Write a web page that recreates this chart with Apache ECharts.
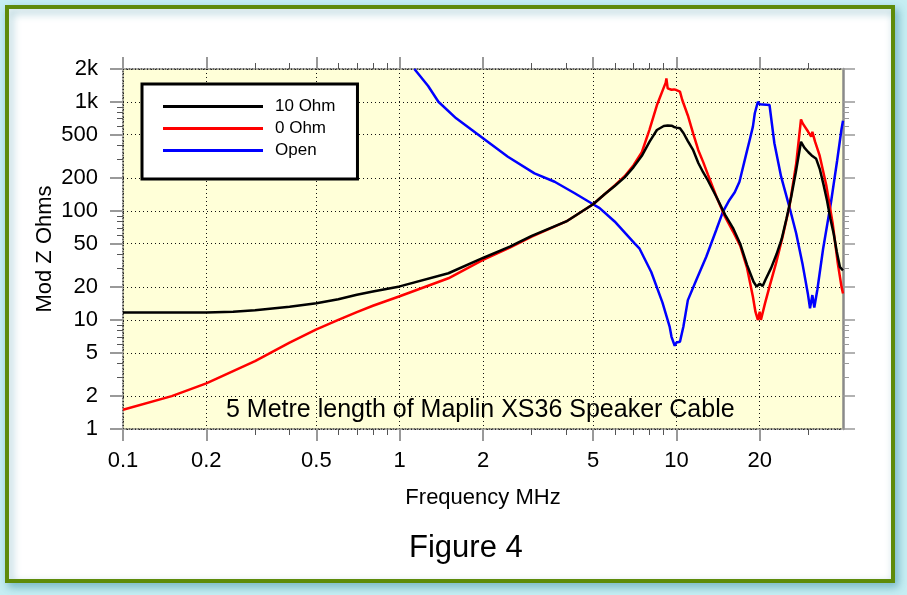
<!DOCTYPE html>
<html><head><meta charset="utf-8">
<script src="https://cdn.jsdelivr.net/npm/echarts@6/dist/echarts.min.js"></script>
<style>html,body{margin:0;padding:0;background:#c6eef3;} #c{width:907px;height:595px;}</style>
</head><body><div id="c"></div>
<script>
// ---- data (frequency in MHz, impedance in ohms) ----
const freq10 = [0.1,0.15,0.2,0.25,0.3,0.4,0.5,0.6,0.7,0.8,1.0,1.5,2.0,2.5,3.0,4.0,5.0,5.5,6.0,6.5,7.0,7.5,8.0,8.5,9.0,9.3,9.6,9.8,10.0,10.3,10.6,11.0,11.5,12.0,12.5,13.0,14.0,15.0,16.0,17.0,18.0,19.0,19.5,20.0,20.5,21.0,22.0,23.0,24.0,25.0,26.0,27.0,28.2,29.0,30.0,31.0,32.0,33.0,34.0,35.0,36.0,37.0,38.0,39.0,40.0];
const z10    = [11.7,11.7,11.7,11.9,12.3,13.2,14.2,15.5,17.0,18.2,20.3,26.8,37,47,59,80,115,142,170,203,252,320,431,552,600,606,604,588,580,572,518,437,360,275,225,190,132,92,70,50,32,22.4,20.2,21.5,20.5,23.5,30,40,55,85,135,225,430,380,345,318,300,240,175,125,85,62,42,30.5,28.5];

const freq0 = [0.1,0.15,0.2,0.25,0.3,0.4,0.5,0.6,0.7,0.8,1.0,1.5,2.0,2.5,3.0,4.0,5.0,5.5,6.0,6.5,7.0,7.5,8.0,8.5,9.0,9.15,9.2,9.3,9.6,9.8,10.0,10.3,10.5,11.0,11.5,12.0,12.5,13.0,14.0,15.0,16.0,17.0,18.0,18.9,19.3,19.7,20.0,20.2,20.9,21.7,22.9,24.2,25.6,27.1,28.2,28.6,29.9,30.7,31.0,31.7,32.9,34.8,36.7,38.3,39.5,40.0];
const z0    = [1.5,2.0,2.62,3.4,4.2,6.2,8.2,10.0,11.8,13.5,16.5,24.1,35.5,46,58,80,115,142,172,208,262,345,560,930,1350,1500,1640,1330,1290,1300,1283,1240,1040,750,510,360,280,215,132,88,65,48,30,16.3,11.9,10.0,11.9,10.0,14.2,20.2,33,58,109,273,690,634,534,479,530,431,325,172,77,33,20.2,17.5];

const freqOpen = [1.13,1.267,1.38,1.6,2.0,2.46,3.07,3.63,4.29,5.0,5.28,5.98,7.06,7.36,8.11,8.9,9.45,9.6,9.86,10.0,10.1,10.3,10.6,11.0,11.8,12.82,13.93,14.72,15.55,16.25,16.9,17.9,18.4,18.9,19.2,19.7,20.0,21.7,21.9,22.6,23.9,25.6,27.1,28.6,29.9,30.4,31.0,31.5,32.3,33.9,36.2,38.1,39.5,40.0];
const zOpen    = [2000,1396,1002,706,463,314,221,185,145,115,106,80,50.4,45,27.5,14.5,8.7,7.0,5.8,6.2,6.0,6.3,8.7,15.2,23.2,38,66.8,98,126,148,185,337,447,592,785,1002,950,935,930,417,206,109,62,32,17,12.8,16.9,13.0,18.8,45,120,290,560,670];

const xMajorTicks = [0.1,0.2,0.5,1,2,5,10,20];
const xTickLabels = ['0.1','0.2','0.5','1','2','5','10','20'];
const xMinorTicks = [0.3,0.4,0.6,0.7,0.8,0.9,3,4,6,7,8,9,30];
const yMajorTicks = [1,2,5,10,20,50,100,200,500,1000,2000];
const yTickLabels = ['1','2','5','10','20','50','100','200','500','1k','2k'];
const yMinorTicks = [3,4,6,7,8,9,30,40,60,70,80,90,300,400,600,700,800,900];

const seriesNames = ['10 Ohm','0 Ohm','Open'];
const seriesColors = ['#000000','#ff0000','#0000ff'];

// ---- build ----
const lg = Math.log10;
const FONT = '"Liberation Sans", Arial, Helvetica, sans-serif';
const X_MIN = lg(0.1), X_MAX = lg(40), Y_MIN = lg(1), Y_MAX = lg(2000);
const pairs = (f, z) => f.map((v, i) => [lg(v), lg(z[i])]);
const fmt = (ticks, labels) => (v) => {
  for (let i = 0; i < ticks.length; i++) if (Math.abs(lg(ticks[i]) - v) < 1e-6) return labels[i];
  return '';
};
const dotted = {color:'#111', width:1, type:[1,3]};
const edge = {color:'#333', width:1.5, type:[1,2]};
const majTick = {color:'#999', width:2};
const minTick = {color:'#555', width:1};

function xAx(pos, ticks, len, tickStyle, extra) {
  return Object.assign({
    type:'value', gridIndex:0, position:pos, min:X_MIN, max:X_MAX,
    axisLine:{show:false, onZero:false},
    axisTick:{show:true, inside:false, length:len, customValues:ticks.map(lg), lineStyle:tickStyle},
    axisLabel:{show:false}, splitLine:{show:false}
  }, extra || {});
}
function yAx(pos, ticks, len, tickStyle, extra) {
  return Object.assign({
    type:'value', gridIndex:0, position:pos, min:Y_MIN, max:Y_MAX,
    axisLine:{show:false, onZero:false},
    axisTick:{show:true, inside:false, length:len, customValues:ticks.map(lg), lineStyle:tickStyle},
    axisLabel:{show:false}, splitLine:{show:false}
  }, extra || {});
}

const option = {
  animation:false,
  backgroundColor:'#c6eef3',
  graphic:[{type:'rect', z:-10, silent:true,
    shape:{x:7, y:7, width:886, height:574},
    style:{fill:'#ffffff', stroke:'#5e8b0a', lineWidth:4, shadowBlur:8, shadowOffsetX:3, shadowOffsetY:4, shadowColor:'rgba(70,150,170,0.55)'}}],
  title:[
    {text:'5 Metre length of Maplin XS36 Speaker Cable', left:226, top:398, padding:0,
     textStyle:{fontSize:25, fontWeight:'normal', color:'#000', fontFamily:FONT}},
    {text:'Figure 4', left:409, top:533, padding:0,
     textStyle:{fontSize:31, fontWeight:'normal', color:'#000', fontFamily:FONT}}
  ],
  legend:{
    data:seriesNames, orient:'vertical', left:142, top:84, padding:[14,22,20,21],
    icon:'rect', itemWidth:100, itemHeight:3, itemGap:5,
    backgroundColor:'#fff', borderColor:'#000', borderWidth:3,
    textStyle:{fontSize:17, color:'#000', fontFamily:FONT, padding:[0,0,0,7]},
    selectedMode:false, z:10
  },
  grid:{left:123, top:69, width:720, height:360, show:true, backgroundColor:'#ffffd8', borderWidth:0},
  xAxis:[
    xAx('bottom', xMajorTicks, 12, majTick, {
      axisLine:{show:true, onZero:false, lineStyle:edge},
      axisLabel:{show:true, customValues:xMajorTicks.map(lg), formatter:fmt(xMajorTicks, xTickLabels), margin:21, fontSize:22, color:'#000', fontFamily:FONT},
      splitLine:{show:true, lineStyle:dotted},
      name:'Frequency MHz', nameLocation:'middle', nameGap:58, nameMoveOverlap:false,
      nameTextStyle:{fontSize:22, color:'#000', fontFamily:FONT}
    }),
    xAx('bottom', xMinorTicks, 6, minTick),
    xAx('top', xMajorTicks, 12, majTick, {axisLine:{show:true, onZero:false, lineStyle:edge}}),
    xAx('top', xMinorTicks, 6, minTick)
  ],
  yAxis:[
    yAx('left', yMajorTicks, 13, majTick, {
      axisLine:{show:true, onZero:false, lineStyle:edge},
      axisLabel:{show:true, customValues:yMajorTicks.map(lg), formatter:fmt(yMajorTicks, yTickLabels), margin:25, fontSize:22, color:'#000', fontFamily:FONT},
      splitLine:{show:true, lineStyle:dotted},
      name:'Mod Z Ohms', nameLocation:'middle', nameGap:67, nameRotate:90, nameMoveOverlap:false,
      nameTextStyle:{fontSize:22, color:'#000', fontFamily:FONT}
    }),
    yAx('left', yMinorTicks, 6, minTick),
    yAx('right', yMajorTicks, 12, {color:'#999', width:1.5}, {axisLine:{show:true, onZero:false, lineStyle:{color:'#8a8a8a', width:2.5}}}),
    yAx('right', yMinorTicks, 6, {color:'#999', width:1})
  ],
  series:[
    {name:seriesNames[2], type:'line', data:pairs(freqOpen, zOpen), showSymbol:false, clip:true,
     color:seriesColors[2], lineStyle:{color:seriesColors[2], width:2.5}},
    {name:seriesNames[1], type:'line', data:pairs(freq0, z0), showSymbol:false, clip:true,
     color:seriesColors[1], lineStyle:{color:seriesColors[1], width:2.5}},
    {name:seriesNames[0], type:'line', data:pairs(freq10, z10), showSymbol:false, clip:true,
     color:seriesColors[0], lineStyle:{color:seriesColors[0], width:2.5}}
  ]
};
const chart = echarts.init(document.getElementById('c'), null, {renderer:'canvas'});
chart.setOption(option);
</script></body></html>
